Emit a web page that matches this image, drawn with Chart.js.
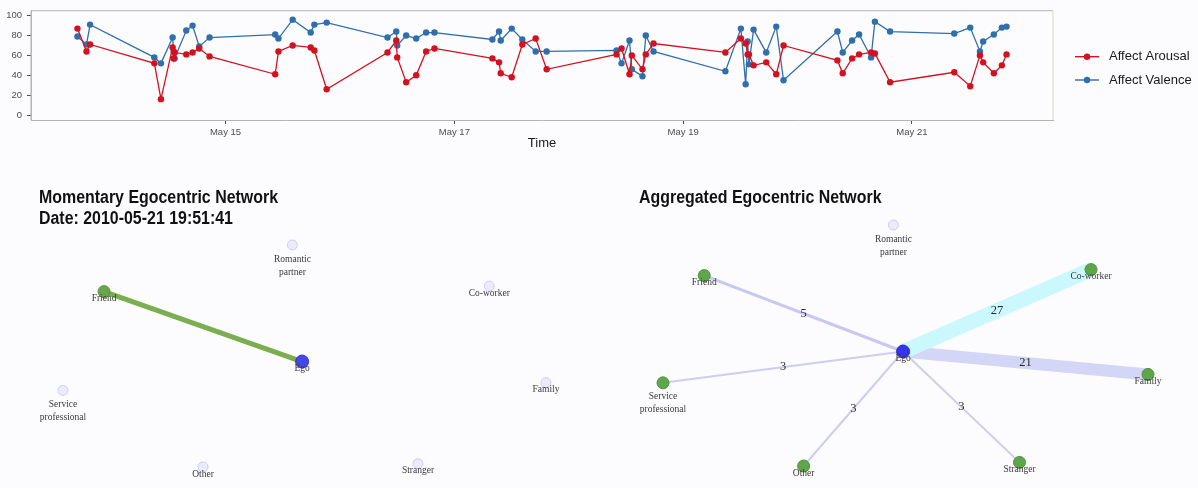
<!DOCTYPE html>
<html>
<head>
<meta charset="utf-8">
<script src="https://cdn.jsdelivr.net/npm/chart.js@4.4.1/dist/chart.umd.min.js"></script>
<style>
  body { margin: 0; background: #fcfcfe; }
  #wrap { position: relative; width: 1198px; height: 488px; overflow: hidden; }
  canvas { position: absolute; }
</style>
</head>
<body>
<div id="wrap">
  <canvas id="timeChart" width="1198" height="160" style="left:0;top:0"></canvas>
  <canvas id="momentChart" width="600" height="328" style="left:0;top:160px"></canvas>
  <canvas id="aggChart" width="598" height="328" style="left:600px;top:160px"></canvas>
</div>
<script>
// affect ratings over time
const times = [
  "2010-05-13 16:56", "2010-05-13 18:50", "2010-05-13 19:35",
  "2010-05-14 09:04", "2010-05-14 10:27", "2010-05-14 12:54", "2010-05-14 13:07", "2010-05-14 13:19",
  "2010-05-14 15:46", "2010-05-14 17:05", "2010-05-14 18:29", "2010-05-14 20:39",
  "2010-05-15 10:25", "2010-05-15 11:06", "2010-05-15 14:05", "2010-05-15 17:52", "2010-05-15 18:38", "2010-05-15 21:13",
  "2010-05-16 09:59", "2010-05-16 11:49", "2010-05-16 12:01", "2010-05-16 13:54", "2010-05-16 16:00", "2010-05-16 18:05", "2010-05-16 19:50",
  "2010-05-17 07:59", "2010-05-17 09:23", "2010-05-17 09:44", "2010-05-17 12:02", "2010-05-17 14:16", "2010-05-17 17:04", "2010-05-17 19:22",
  "2010-05-18 10:02", "2010-05-18 11:05", "2010-05-18 12:45", "2010-05-18 13:14", "2010-05-18 15:28", "2010-05-18 16:10", "2010-05-18 17:47",
  "2010-05-19 08:52", "2010-05-19 12:07", "2010-05-19 13:07", "2010-05-19 13:32", "2010-05-19 13:48", "2010-05-19 14:47", "2010-05-19 17:26", "2010-05-19 19:32", "2010-05-19 21:04",
  "2010-05-20 08:22", "2010-05-20 09:29", "2010-05-20 11:27", "2010-05-20 12:55", "2010-05-20 15:26", "2010-05-20 16:14", "2010-05-20 19:25",
  "2010-05-21 08:53", "2010-05-21 12:14", "2010-05-21 14:16", "2010-05-21 14:57", "2010-05-21 17:11", "2010-05-21 18:52", "2010-05-21 19:51"
];
const arousal = [87, 64, 71, 52, 16, 68, 57, 63, 61, 63, 67, 59, 41, 64, 70, 68, 65, 26,
  63, 75, 58, 33, 40, 64, 67, 57, 53, 42, 38, 71, 77, 46, 61, 67, 41, 60, 46, 61, 72,
  63, 77, 72, 61, 61, 50, 53, 41, 70, 55, 42, 57, 61, 63, 62, 33, 43, 29, 60, 53, 42, 50, 61];
const valence = [79, 71, 91, 58, 52, 78, 64, 57, 85, 90, 69, 78, 81, 77, 96, 83, 91, 93,
  78, 84, 70, 80, 77, 83, 83, 76, 84, 75, 87, 76, 64, 64, 65, 52, 75, 46, 39, 80, 64,
  44, 87, 31, 74, 51, 86, 63, 89, 35, 84, 63, 75, 81, 58, 94, 84, 82, 88, 64, 74, 81, 88, 89];
const xTickDates = ["2010-05-15 00:00", "2010-05-17 00:00", "2010-05-19 00:00", "2010-05-21 00:00"];
const xTickLabels = ["May 15", "May 17", "May 19", "May 21"];
const yTicks = [0, 20, 40, 60, 80, 100];

// egocentric network
const nodeNames = ["Ego", "Friend", "Romantic\npartner", "Co-worker", "Family", "Service\nprofessional", "Other", "Stranger"];
const layoutX = [-0.01, -0.83, -0.05, 0.765, 1.0, -1.0, -0.42, 0.47];
const layoutY = [-0.05, 0.58, 1.0, 0.63, -0.24, -0.31, -1.0, -0.97];
const momentTies = ["Friend"];
const momentWeights = [1];
const aggTies = ["Friend", "Co-worker", "Family", "Service\nprofessional", "Other", "Stranger"];
const aggWeights = [5, 27, 21, 3, 3, 3];
const momentDate = "2010-05-21 19:51:41";

const SANS = "'Liberation Sans', Arial, sans-serif";
const SERIF = "'Liberation Serif', 'Times New Roman', serif";

function hoursFrom13(s) {
  let parts = s.split(" ");
  let day = parseInt(parts[0].split("-")[2]);
  let hm = parts[1].split(":").map(Number);
  return (day - 13) * 24 + hm[0] + hm[1] / 60;
}

let hours = times.map(hoursFrom13);
let tickHours = xTickDates.map(hoursFrom13);
let span = hours[hours.length - 1] - hours[0];

const panelBorder = {
  id: "panelBorder",
  afterDraw(chart) {
    const a = chart.chartArea;
    const ctx = chart.ctx;
    ctx.save();
    ctx.lineWidth = 1;
    ctx.strokeStyle = "#b4b4b8";
    ctx.beginPath();
    ctx.moveTo(a.left, a.bottom);
    ctx.lineTo(a.left, a.top);
    ctx.lineTo(a.right, a.top);
    ctx.stroke();
    ctx.strokeStyle = "#d8d8ac";
    ctx.beginPath();
    ctx.moveTo(a.right, a.top);
    ctx.lineTo(a.right, a.bottom);
    ctx.stroke();
    ctx.restore();
  }
};

const sideLegend = {
  id: "sideLegend",
  afterDraw(chart) {
    const ctx = chart.ctx;
    const x0 = chart.chartArea.right + 22;
    chart.data.datasets.forEach((ds, i) => {
      let y = 56.7 + i * 23.3;
      ctx.save();
      ctx.strokeStyle = ds.borderColor;
      ctx.lineWidth = 1.4;
      ctx.beginPath();
      ctx.moveTo(x0, y);
      ctx.lineTo(x0 + 24, y);
      ctx.stroke();
      ctx.fillStyle = ds.borderColor;
      ctx.beginPath();
      ctx.arc(x0 + 12, y, 3.2, 0, Math.PI * 2);
      ctx.fill();
      ctx.fillStyle = "#1a1a1a";
      ctx.font = "13px " + SANS;
      ctx.textBaseline = "middle";
      ctx.fillText(ds.label, x0 + 34, y);
      ctx.restore();
    });
  }
};

new Chart(document.getElementById("timeChart"), {
  type: "line",
  data: {
    datasets: [
      {
        label: "Affect Arousal",
        data: hours.map((h, i) => ({ x: h, y: arousal[i] })),
        borderColor: "#d3111f",
        backgroundColor: "#d3111f",
        borderWidth: 1.3,
        pointRadius: 3.2,
        pointBorderWidth: 0,
        tension: 0
      },
      {
        label: "Affect Valence",
        data: hours.map((h, i) => ({ x: h, y: valence[i] })),
        borderColor: "#2f6fab",
        backgroundColor: "#2f6fab",
        borderWidth: 1.3,
        pointRadius: 3.2,
        pointBorderWidth: 0,
        tension: 0
      }
    ]
  },
  options: {
    responsive: false,
    animation: false,
    layout: { padding: { top: 9, right: 145, left: 0, bottom: 0 } },
    plugins: { legend: { display: false }, tooltip: { enabled: false } },
    scales: {
      x: {
        type: "linear",
        min: hours[0] - 0.05 * span,
        max: hours[hours.length - 1] + 0.05 * span,
        afterBuildTicks: (s) => { s.ticks = tickHours.map((v) => ({ value: v })); },
        afterFit: (s) => { s.height = 40; },
        ticks: {
          callback: (v) => xTickLabels[tickHours.indexOf(v)],
          color: "#4d4d4d",
          font: { size: 9.5, family: SANS },
          padding: 3,
          maxRotation: 0
        },
        grid: { drawOnChartArea: false, drawTicks: true, tickLength: 4, color: "#4d4d4d" },
        border: { color: "#b4b4b8" },
        title: {
          display: true,
          text: "Time",
          color: "#1a1a1a",
          font: { size: 13, family: SANS },
          padding: { top: 0, bottom: 9 }
        }
      },
      y: {
        min: -5,
        max: 105,
        afterBuildTicks: (s) => { s.ticks = yTicks.map((v) => ({ value: v })); },
        afterFit: (s) => { s.width = 31; },
        ticks: { color: "#4d4d4d", font: { size: 9.5, family: SANS }, padding: 5 },
        grid: { drawOnChartArea: false, drawTicks: true, tickLength: 4, color: "#4d4d4d" },
        border: { color: "#b4b4b8" }
      }
    }
  },
  plugins: [panelBorder, sideLegend]
});

// text on the network charts: titles, node names, tie weights
const netText = {
  id: "netText",
  afterDatasetsDraw(chart, args, opts) {
    const ctx = chart.ctx;
    const xs = chart.scales.x, ys = chart.scales.y;
    ctx.save();
    ctx.fillStyle = "#111";
    ctx.font = "bold 18px " + SANS;
    ctx.textAlign = "left";
    ctx.textBaseline = "alphabetic";
    opts.title.forEach((t, i) => {
      ctx.save();
      ctx.translate(39, 43 + i * 20.6);
      ctx.scale(0.885, 1);
      ctx.fillText(t, 0, 0);
      ctx.restore();
    });

    ctx.font = "9.5px " + SERIF;
    ctx.fillStyle = "#3a3a3a";
    ctx.textAlign = "center";
    ctx.textBaseline = "middle";
    nodeNames.forEach((name, k) => {
      let px = xs.getPixelForValue(layoutX[k]);
      let py = ys.getPixelForValue(layoutY[k]);
      let lines = name.split("\n");
      lines.forEach((ln, j) => ctx.fillText(ln, px, py + 7 + (lines.length - 1) * 7 + j * 13));
    });

    if (opts.weights) {
      ctx.font = "12.5px " + SERIF;
      ctx.fillStyle = "#2a2a2a";
      opts.ties.forEach((name, i) => {
        let k = nodeNames.indexOf(name);
        let mx = xs.getPixelForValue((layoutX[0] + layoutX[k]) / 2);
        let my = ys.getPixelForValue((layoutY[0] + layoutY[k]) / 2);
        ctx.fillText(String(opts.weights[i]), mx, my);
      });
    }
    ctx.restore();
  }
};

function networkChart(id, ties, weights, look) {
  const datasets = [];
  ties.forEach((name, i) => {
    let k = nodeNames.indexOf(name);
    datasets.push({
      type: "line",
      data: [{ x: layoutX[0], y: layoutY[0] }, { x: layoutX[k], y: layoutY[k] }],
      borderColor: look.edgeColors[i],
      borderWidth: look.edgeWidths[i],
      borderCapStyle: "butt",
      pointRadius: 0,
      clip: false,
      order: 2
    });
  });
  const fills = [], borders = [], radii = [];
  nodeNames.forEach((name, k) => {
    if (k === 0) {
      fills.push(look.egoColor); borders.push(look.egoBorder); radii.push(6.5);
    } else if (ties.indexOf(name) >= 0) {
      fills.push(look.tieColor); borders.push(look.tieBorder); radii.push(6);
    } else {
      fills.push("rgba(214,214,248,0.45)"); borders.push("rgba(176,176,232,0.55)"); radii.push(5);
    }
  });
  datasets.push({
    type: "scatter",
    data: nodeNames.map((n, k) => ({ x: layoutX[k], y: layoutY[k] })),
    pointBackgroundColor: fills,
    pointBorderColor: borders,
    pointBorderWidth: 1,
    pointRadius: radii,
    clip: false,
    order: 1
  });
  return new Chart(document.getElementById(id), {
    type: "scatter",
    data: { datasets: datasets },
    options: {
      responsive: false,
      animation: false,
      layout: { padding: look.padding },
      plugins: {
        legend: { display: false },
        tooltip: { enabled: false },
        netText: { title: look.title, ties: ties, weights: look.showWeights ? weights : null }
      },
      scales: {
        x: { type: "linear", min: -1, max: 1, display: false },
        y: { type: "linear", min: -1, max: 1, display: false }
      }
    },
    plugins: [netText]
  });
}

networkChart("momentChart", momentTies, momentWeights, {
  title: ["Momentary Egocentric Network", "Date: " + momentDate],
  padding: { left: 63, right: 54, top: 85, bottom: 21 },
  edgeColors: ["rgba(112,166,66,0.92)"],
  edgeWidths: [5],
  egoColor: "#4646ec", egoBorder: "#3434c8",
  tieColor: "#6ba54c", tieBorder: "#5a9040",
  showWeights: false
});

networkChart("aggChart", aggTies, aggWeights, {
  title: ["Aggregated Egocentric Network"],
  padding: { left: 63, right: 50, top: 65, bottom: 22 },
  edgeColors: ["#c8c8f2", "#cbf8fc", "#d3d6f7", "#cdcdf2", "#cdcdf2", "#cdcdf2"],
  edgeWidths: [3, 15, 12, 2, 2, 2],
  egoColor: "#3434f2", egoBorder: "#2828c8",
  tieColor: "#5fa64a", tieBorder: "#4f913c",
  showWeights: true
});
</script>
</body>
</html>
